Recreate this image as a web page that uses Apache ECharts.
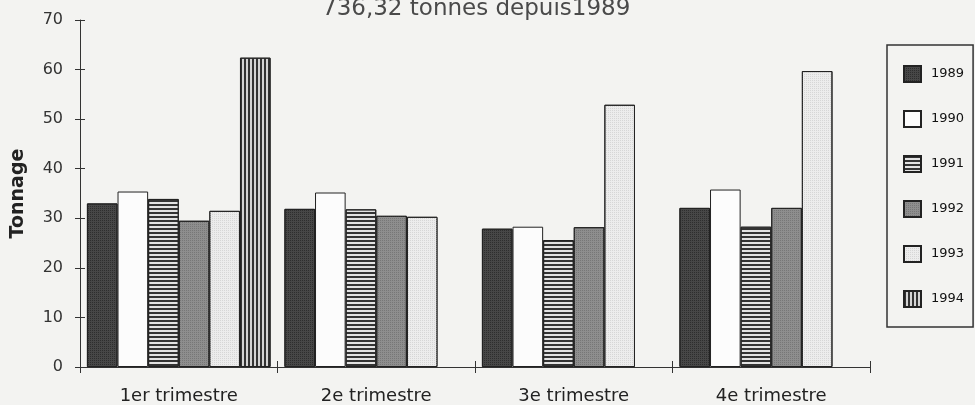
<!DOCTYPE html>
<html>
<head>
<meta charset="utf-8">
<title>Tonnage par trimestre</title>
<script src="https://cdn.jsdelivr.net/npm/echarts@6.0.0/dist/echarts.min.js"></script>
<style>
  html, body { margin: 0; padding: 0; background: #f3f3f1; }
  #chart { width: 975px; height: 405px; }
</style>
</head>
<body>
<div id="chart"></div>
<script>
// data
var categories = ['1er trimestre', '2e trimestre', '3e trimestre', '4e trimestre']
var years = ['1989', '1990', '1991', '1992', '1993', '1994']
var v1989 = [33.0, 31.9, 27.9, 32.1]
var v1990 = [35.4, 35.2, 28.3, 35.8]
var v1991 = [33.9, 31.8, 25.6, 28.3]
var v1992 = [29.5, 30.5, 28.2, 32.1]
var v1993 = [31.5, 30.3, 52.9, 59.7]
var v1994 = [62.4, null, null, null]
var yTicks = [0, 10, 20, 30, 40, 50, 60, 70]

var values = [v1989, v1990, v1991, v1992, v1993, v1994]

// fill + pattern for each year (the photocopy look)
var fills = [
  { color: '#474747', decal: { symbol: 'rect', symbolSize: 1, color: '#2e2e2e', dashArrayX: [1, 1], dashArrayY: [1, 1] } },
  { color: '#fcfcfc', decal: null },
  { color: '#e2e2e2', decal: { symbol: 'rect', symbolSize: 1, color: '#333333', dashArrayX: [1, 0], dashArrayY: [2, 2] } },
  { color: '#8e8e8e', decal: { symbol: 'rect', symbolSize: 1, color: '#777777', dashArrayX: [1, 1], dashArrayY: [1, 1] } },
  { color: '#ececec', decal: { symbol: 'rect', symbolSize: 1, color: '#d6d6d6', dashArrayX: [1, 1], dashArrayY: [1, 1] } },
  { color: '#d4d4d4', decal: { symbol: 'rect', symbolSize: 1, color: '#333333', dashArrayX: [2, 2], dashArrayY: [1, 0] } }
]

var font = 'DejaVu Sans'

var chart = echarts.init(document.getElementById('chart'), null, { renderer: 'canvas' })

var series = years.map(function (y, i) {
  return {
    name: y,
    type: 'bar',
    barGap: 0,
    barCategoryGap: '7%',
    data: values[i],
    itemStyle: {
      color: fills[i].color,
      decal: fills[i].decal,
      borderColor: '#222',
      borderWidth: 1
    },
    emphasis: { disabled: true }
  }
})

chart.setOption({
  backgroundColor: '#f3f3f1',
  animation: false,
  aria: { enabled: false },
  title: {
    text: '736,32 tonnes depuis1989',
    left: 322,
    top: -2,
    padding: 0,
    textStyle: {
      fontFamily: font,
      fontWeight: 'normal',
      fontSize: 23,
      color: '#4a4a4a'
    }
  },
  legend: {
    orient: 'vertical',
    left: 887,
    top: 45,
    padding: [20, 9, 19, 16],
    itemWidth: 17,
    itemHeight: 16,
    itemGap: 27,
    borderColor: '#333',
    borderWidth: 1.5,
    borderRadius: 0,
    selectedMode: false,
    icon: 'rect',
    textStyle: {
      fontFamily: font,
      fontSize: 13,
      color: '#111',
      padding: [0, 0, 0, 5]
    },
    data: years
  },
  grid: {
    left: 80,
    right: 105,
    top: 20,
    bottom: 38,
    containLabel: false
  },
  xAxis: [
    {
      type: 'category',
      data: categories,
      axisLine: { lineStyle: { color: '#333', width: 1 } },
      axisTick: { show: true, length: 6, lineStyle: { color: '#333' } },
      axisLabel: {
        margin: 20,
        fontFamily: font,
        fontSize: 18,
        color: '#222'
      }
    },
    {
      // second axis only to draw the inner half of the crossing ticks
      type: 'category',
      data: categories,
      position: 'bottom',
      axisLine: { show: false },
      axisTick: { show: true, inside: true, length: 6, lineStyle: { color: '#333' } },
      axisLabel: { show: false }
    }
  ],
  yAxis: [
    {
      type: 'value',
      min: yTicks[0],
      max: yTicks[yTicks.length - 1],
      interval: 10,
      name: 'Tonnage',
      nameLocation: 'middle',
      nameGap: 52,
      nameTextStyle: {
        fontFamily: font,
        fontWeight: 'bold',
        fontSize: 19,
        color: '#222'
      },
      axisLine: { show: true, lineStyle: { color: '#333', width: 1 } },
      axisTick: { show: true, length: 5, lineStyle: { color: '#333' } },
      splitLine: { show: false },
      axisLabel: {
        margin: 17,
        fontFamily: font,
        fontSize: 16,
        color: '#333'
      }
    },
    {
      type: 'value',
      position: 'left',
      min: yTicks[0],
      max: yTicks[yTicks.length - 1],
      interval: 10,
      axisLine: { show: false },
      axisTick: { show: true, inside: true, length: 5, lineStyle: { color: '#333' } },
      splitLine: { show: false },
      axisLabel: { show: false }
    }
  ],
  series: series
})
</script>
</body>
</html>
